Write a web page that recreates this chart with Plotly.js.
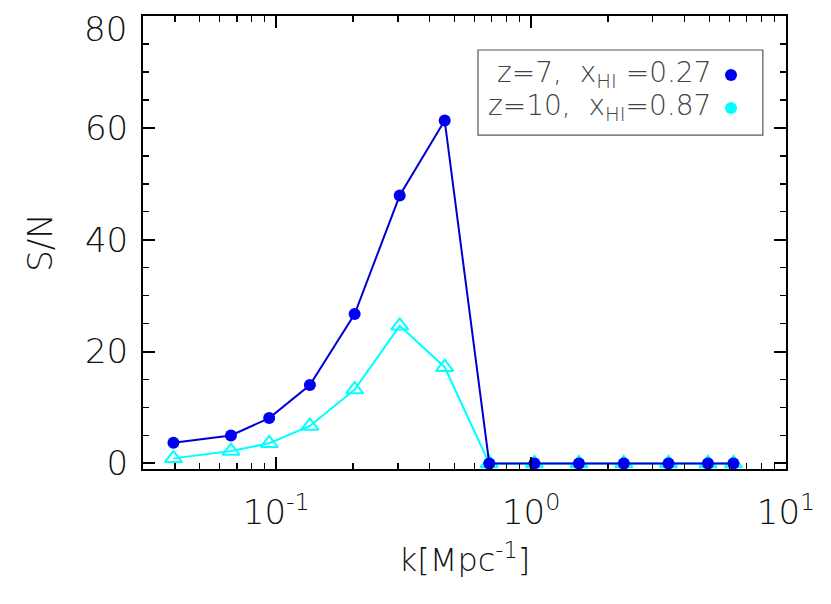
<!DOCTYPE html>
<html>
<head>
<meta charset="utf-8">
<script src="https://cdn.plot.ly/plotly-3.0.1.min.js"></script>
<style>html,body{margin:0;padding:0;background:#fff;}#chart{width:831px;height:604px;}</style>
</head>
<body>
<div id="chart"></div>
<script>
// k values [Mpc^-1]
var kValues = [0.0395, 0.0664, 0.0938, 0.1355, 0.203, 0.305, 0.458, 0.685, 1.03, 1.54, 2.31, 3.46, 4.94, 6.22];
// S/N, z=7, x_HI=0.27
var snZ7 = [3.7, 5.0, 8.1, 14.0, 26.7, 47.9, 61.3, 0, 0, 0, 0, 0, 0, 0];
// S/N, z=10, x_HI=0.87
var snZ10 = [0.9, 2.2, 3.6, 6.7, 13.2, 24.6, 17.2, 0, 0, 0, 0, 0, 0, 0];
var seriesNames = ["z=7,  x<sub>HI</sub> =0.27", "z=10,  x<sub>HI</sub>=0.87"];
var xTickVals = [0.1, 1, 10];
var xTickText = ["10<sup>-1</sup>", "10<sup>0</sup>", "10<sup>1</sup>"];
var xMinorVals = [0.03, 0.04, 0.05, 0.06, 0.07, 0.08, 0.09, 0.2, 0.3, 0.4, 0.5, 0.6, 0.7, 0.8, 0.9, 2, 3, 4, 5, 6, 7, 8, 9];
var yTickVals = [0, 20, 40, 60, 80];
var yTickText = ["0", "20", "40", "60", ""];   // top label "80" drawn just below the frame edge
var yTopLabel = "80";

var blue = "rgb(0,0,240)";
var cyan = "rgb(0,255,255)";
var fontFam = "DejaVu Sans, sans-serif";
var W = 200;

var traces = [
  {x: kValues, y: snZ10, type: "scatter", mode: "lines+markers", name: seriesNames[1], showlegend: false,
   line: {color: cyan, width: 2}, marker: {symbol: "triangle-up-open", size: 15, color: cyan, line: {width: 2, color: cyan}}, cliponaxis: true},
  {x: kValues, y: snZ7, type: "scatter", mode: "lines+markers", name: seriesNames[0], showlegend: false,
   line: {color: "rgb(0,0,210)", width: 2}, marker: {symbol: "circle", size: 12, color: blue}, cliponaxis: true}
];

var layout = {
  width: 831, height: 604,
  margin: {l: 143, r: 45, t: 16, b: 135},
  paper_bgcolor: "#fff", plot_bgcolor: "#fff",
  showlegend: false,
  font: {family: fontFam, color: "#111", size: 34, weight: W},
  xaxis: {
    type: "log", range: [Math.log10(0.03), 1],
    tickmode: "array", tickvals: xTickVals, ticktext: xTickText,
    ticks: "inside", ticklen: 12, tickwidth: 2, tickcolor: "#000",
    minor: {ticks: "inside", ticklen: 6, tickwidth: 1.5, tickcolor: "#000", showgrid: false,
            tickmode: "array", tickvals: xMinorVals},
    showline: true, linewidth: 2, linecolor: "#000", mirror: "ticks",
    showgrid: false, zeroline: false,
    ticklabelstandoff: 12,
    tickfont: {family: fontFam, size: 34, color: "#111", weight: W},
    title: {text: "k[Mpc<sup>-1</sup>]", font: {family: fontFam, size: 32, color: "#111", weight: W}, standoff: 18}
  },
  yaxis: {
    range: [-1, 80],
    tickmode: "array", tickvals: yTickVals, ticktext: yTickText,
    ticks: "inside", ticklen: 12, tickwidth: 2, tickcolor: "#000",
    minor: {ticks: "inside", ticklen: 6, tickwidth: 1.5, tickcolor: "#000", dtick: 5, showgrid: false},
    showline: true, linewidth: 2, linecolor: "#000", mirror: "ticks",
    showgrid: false, zeroline: false,
    ticklabelstandoff: 6,
    tickfont: {family: fontFam, size: 34, color: "#111", weight: W},
    title: {text: "S/N", font: {family: fontFam, size: 34, color: "#111", weight: W}, standoff: 22}
  },
  shapes: [
    {type: "rect", xref: "paper", yref: "paper", x0: 0.521, x1: 0.964, y0: 0.737, y1: 0.925,
     line: {color: "#555", width: 1.2}, fillcolor: "rgba(0,0,0,0)"},
    {type: "circle", xref: "paper", yref: "paper", xsizemode: "pixel", ysizemode: "pixel",
     xanchor: 0.9145, yanchor: 0.870, x0: -6, x1: 6, y0: -6, y1: 6, fillcolor: blue, line: {width: 0}},
    {type: "circle", xref: "paper", yref: "paper", xsizemode: "pixel", ysizemode: "pixel",
     xanchor: 0.9145, yanchor: 0.797, x0: -6, x1: 6, y0: -6, y1: 6, fillcolor: cyan, line: {width: 0}}
  ],
  annotations: [
    {xref: "paper", yref: "paper", x: 0.8865, y: 0.870, xanchor: "right", yanchor: "middle", showarrow: false,
     text: seriesNames[0], font: {family: fontFam, size: 28, color: "#444", weight: W}},
    {xref: "paper", yref: "paper", x: 0.8865, y: 0.797, xanchor: "right", yanchor: "middle", showarrow: false,
     text: seriesNames[1], font: {family: fontFam, size: 28, color: "#444", weight: W}},
    {xref: "paper", yref: "y", x: 0, y: yTickVals[4], xanchor: "right", yanchor: "middle", showarrow: false,
     xshift: -14, yshift: -13, text: yTopLabel, font: {family: fontFam, size: 34, color: "#111", weight: W}}
  ]
};

Plotly.newPlot("chart", traces, layout, {displayModeBar: false, staticPlot: true});
</script>
</body>
</html>
